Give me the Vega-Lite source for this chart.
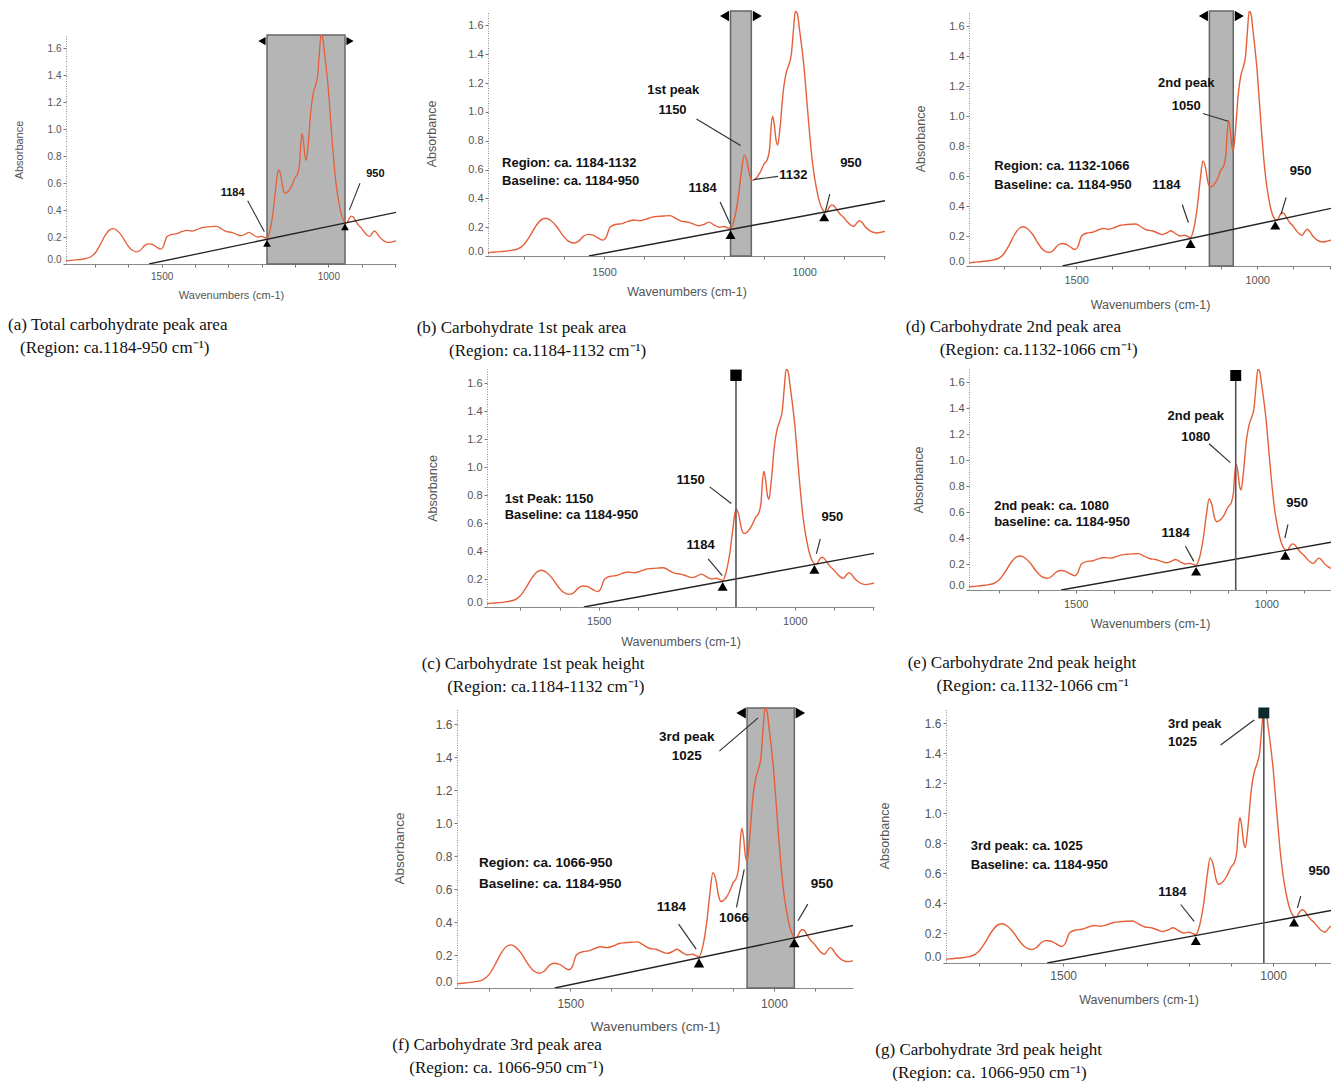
{
  "$schema": "https://vega.github.io/schema/vega-lite/v6.json",
  "padding": {"left": 8, "top": 10, "right": 0, "bottom": 0},
  "datasets": {
    "spec": [
      {"x":1800,"y":0.02},{"x":1782,"y":0.025},{"x":1760,"y":0.03},{"x":1737,"y":0.037},{"x":1715,"y":0.05},{"x":1700,"y":0.08},{"x":1685,"y":0.14},{"x":1670,"y":0.21},{"x":1655,"y":0.255},{"x":1645,"y":0.262},{"x":1635,"y":0.25},{"x":1620,"y":0.21},{"x":1605,"y":0.15},{"x":1590,"y":0.105},{"x":1575,"y":0.09},{"x":1565,"y":0.1},{"x":1550,"y":0.14},{"x":1540,"y":0.15},{"x":1528,"y":0.145},{"x":1515,"y":0.125},{"x":1503,"y":0.11},{"x":1495,"y":0.13},{"x":1485,"y":0.2},{"x":1470,"y":0.22},{"x":1455,"y":0.225},{"x":1440,"y":0.24},{"x":1425,"y":0.25},{"x":1410,"y":0.245},{"x":1395,"y":0.255},{"x":1380,"y":0.27},{"x":1365,"y":0.275},{"x":1350,"y":0.278},{"x":1335,"y":0.28},{"x":1320,"y":0.26},{"x":1305,"y":0.24},{"x":1290,"y":0.235},{"x":1275,"y":0.22},{"x":1262,"y":0.21},{"x":1250,"y":0.22},{"x":1238,"y":0.235},{"x":1225,"y":0.215},{"x":1212,"y":0.2},{"x":1200,"y":0.205},{"x":1190,"y":0.195},{"x":1184,"y":0.19},{"x":1175,"y":0.25},{"x":1165,"y":0.4},{"x":1157,"y":0.58},{"x":1150,"y":0.7},{"x":1143,"y":0.66},{"x":1136,"y":0.56},{"x":1130,"y":0.525},{"x":1120,"y":0.54},{"x":1110,"y":0.58},{"x":1100,"y":0.64},{"x":1092,"y":0.67},{"x":1086,"y":0.75},{"x":1083,"y":0.88},{"x":1079,"y":0.97},{"x":1075,"y":0.92},{"x":1070,"y":0.8},{"x":1066,"y":0.77},{"x":1060,"y":0.9},{"x":1052,"y":1.15},{"x":1045,"y":1.27},{"x":1038,"y":1.33},{"x":1032,"y":1.4},{"x":1027,"y":1.56},{"x":1022,"y":1.7},{"x":1017,"y":1.68},{"x":1012,"y":1.58},{"x":1006,"y":1.45},{"x":1000,"y":1.3},{"x":994,"y":1.1},{"x":988,"y":0.9},{"x":982,"y":0.72},{"x":976,"y":0.58},{"x":970,"y":0.48},{"x":964,"y":0.4},{"x":958,"y":0.345},{"x":952,"y":0.315},{"x":948,"y":0.305},{"x":943,"y":0.31},{"x":937,"y":0.34},{"x":931,"y":0.355},{"x":926,"y":0.35},{"x":918,"y":0.32},{"x":910,"y":0.29},{"x":902,"y":0.27},{"x":893,"y":0.24},{"x":884,"y":0.215},{"x":876,"y":0.205},{"x":868,"y":0.23},{"x":862,"y":0.245},{"x":856,"y":0.235},{"x":848,"y":0.205},{"x":838,"y":0.18},{"x":828,"y":0.165},{"x":818,"y":0.16},{"x":808,"y":0.165},{"x":800,"y":0.17},{"x":785,"y":0.175}
    ],
    "base": [{"x":1538,"y":0},{"x":785,"y":0.39}],
    "apex": [{"x":1184,"y":0.183},{"x":950,"y":0.305}]
  },
  "config": {
    "view": {"stroke": null},
    "axis": {"grid": false, "domainColor": "#8a8a8a", "tickColor": "#777", "tickSize": 3, "labelColor": "#555", "titleColor": "#555", "labelFont": "Liberation Sans", "titleFont": "Liberation Sans", "titleFontWeight": "normal"},
    "axisY": {"domainDash": [1, 1.5], "labelFlush": true, "labelPadding": 2},
    "axisX": {"labelFlush": false},
    "title": {"orient": "bottom", "anchor": "start", "frame": "bounds", "font": "Liberation Serif", "fontSize": 17, "fontWeight": "normal", "color": "#111", "lineHeight": 23},
    "text": {"font": "Liberation Sans", "fontWeight": "bold", "color": "#111"}
  },
  "vconcat": [
    {
      "hconcat": [
        {
          "vconcat": [
            {"width": 10, "height": 23, "data": {"values": [{"t": ""}]}, "mark": "text", "encoding": {"text": {"field": "t"}}},
            {
              "width": 330, "height": 229,
              "title": {"text": ["(a) Total carbohydrate peak area", "\u200b\u2002\u2009(Region: ca.1184-950 cm\u207b\u00b9)"], "dx": -5, "offset": 17},
              "encoding": {
                "x": {"field": "x", "type": "quantitative", "scale": {"domain": [1787, 797], "nice": false, "zero": false}, "axis": {"title": "Wavenumbers (cm-1)", "values": [1700,1600,1500,1400,1300,1200,1100,1000,900,800], "format": "d", "labelExpr": "datum.value == 1500 || datum.value == 1000 ? datum.label : ''", "labelFontSize": 10, "titleFontSize": 11, "labelPadding": 4, "titlePadding": 8}},
                "y": {"field": "y", "type": "quantitative", "scale": {"domain": [0, 1.7], "nice": false, "zero": false}, "axis": {"title": "Absorbance", "values": [0,0.2,0.4,0.6,0.8,1,1.2,1.4,1.6], "format": ".1f", "labelFontSize": 10, "titleFontSize": 11, "titlePadding": 23}}
              },
              "layer": [
                {"data": {"values": [{"x": 1184, "x2": 950, "y": 0, "y2": 1.7}]}, "mark": {"type": "rect", "fill": "#b5b5b5", "stroke": "#666", "strokeWidth": 1.5}, "encoding": {"x2": {"field": "x2"}, "y2": {"field": "y2"}}},
                {"data": {"name": "spec"}, "mark": {"type": "line", "color": "#e5603a", "strokeWidth": 1.3, "clip": true, "interpolate": "monotone"}},
                {"data": {"name": "base"}, "mark": {"type": "line", "color": "#222", "strokeWidth": 1.3, "clip": true}},
                {"data": {"name": "apex"}, "mark": {"type": "point", "shape": "triangle-up", "filled": true, "color": "#000", "opacity": 1, "size": 60, "yOffset": 4}},
                {"data": {"values": [{"x": 1184, "y": 1.655}]}, "mark": {"type": "point", "shape": "triangle-left", "filled": true, "color": "#000", "opacity": 1, "size": 70, "xOffset": -5}},
                {"data": {"values": [{"x": 950, "y": 1.655}]}, "mark": {"type": "point", "shape": "triangle-right", "filled": true, "color": "#000", "opacity": 1, "size": 70, "xOffset": 5}},
                {"data": {"values": [{"x": 1242, "y": 0.47, "x2": 1192, "y2": 0.24}, {"x": 905, "y": 0.6, "x2": 937, "y2": 0.4}]}, "mark": {"type": "rule", "color": "#333", "strokeWidth": 1.1}, "encoding": {"x2": {"field": "x2"}, "y2": {"field": "y2"}}},
                {"data": {"values": [{"x": 1287, "y": 0.53, "label": "1184"}, {"x": 859, "y": 0.67, "label": "950"}]}, "mark": {"type": "text", "fontSize": 11}, "encoding": {"text": {"field": "label"}}}
              ]
            }
          ],
          "spacing": 0
        },
        {
          "width": 397, "height": 245,
          "title": {"text": ["(b) Carbohydrate 1st peak area", "\u200b\u2002\u2002\u2002\u2009\u2009(Region: ca.1184-1132 cm\u207b\u00b9)"], "dx": -9, "offset": 22},
          "encoding": {
            "x": {"field": "x", "type": "quantitative", "scale": {"domain": [1790, 798], "nice": false, "zero": false}, "axis": {"title": "Wavenumbers (cm-1)", "values": [1700,1600,1500,1400,1300,1200,1100,1000,900,800], "format": "d", "labelExpr": "datum.value == 1500 || datum.value == 1000 ? datum.label : ''", "labelFontSize": 11, "titleFontSize": 12.5, "labelPadding": 7, "titlePadding": 8}},
            "y": {"field": "y", "type": "quantitative", "scale": {"domain": [0, 1.7], "nice": false, "zero": false}, "axis": {"title": "Absorbance", "values": [0,0.2,0.4,0.6,0.8,1,1.2,1.4,1.6], "format": ".1f", "labelFontSize": 11, "titleFontSize": 12.5, "titlePadding": 29}}
          },
          "layer": [
            {"data": {"values": [{"x": 1184, "x2": 1132, "y": 0, "y2": 1.7}]}, "mark": {"type": "rect", "fill": "#b5b5b5", "stroke": "#666", "strokeWidth": 1.5}, "encoding": {"x2": {"field": "x2"}, "y2": {"field": "y2"}}},
            {"data": {"name": "spec"}, "mark": {"type": "line", "color": "#e5603a", "strokeWidth": 1.4, "clip": true, "interpolate": "monotone"}},
            {"data": {"name": "base"}, "mark": {"type": "line", "color": "#222", "strokeWidth": 1.4, "clip": true}},
            {"data": {"name": "apex"}, "mark": {"type": "point", "shape": "triangle-up", "filled": true, "color": "#000", "opacity": 1, "size": 100, "yOffset": 5}},
            {"data": {"values": [{"x": 1184, "y": 1.665}]}, "mark": {"type": "point", "shape": "triangle-left", "filled": true, "color": "#000", "opacity": 1, "size": 110, "xOffset": -6}},
            {"data": {"values": [{"x": 1132, "y": 1.665}]}, "mark": {"type": "point", "shape": "triangle-right", "filled": true, "color": "#000", "opacity": 1, "size": 110, "xOffset": 6}},
            {"data": {"values": [{"x": 1269, "y": 0.95, "x2": 1159, "y2": 0.766}, {"x": 1210, "y": 0.374, "x2": 1185, "y2": 0.224}, {"x": 1065, "y": 0.553, "x2": 1126, "y2": 0.53}, {"x": 936, "y": 0.43, "x2": 948, "y2": 0.298}]}, "mark": {"type": "rule", "color": "#333", "strokeWidth": 1.2}, "encoding": {"x2": {"field": "x2"}, "y2": {"field": "y2"}}},
            {"data": {"values": [{"x": 1327, "y": 1.15, "label": "1st peak"}, {"x": 1329, "y": 1.01, "label": "1150"}, {"x": 1254, "y": 0.473, "label": "1184"}, {"x": 883, "y": 0.646, "label": "950"}]}, "mark": {"type": "text", "fontSize": 13}, "encoding": {"text": {"field": "label"}}},
            {"data": {"values": [{"x": 1755, "y": 0.646, "label": "Region: ca. 1184-1132"}, {"x": 1755, "y": 0.52, "label": "Baseline: ca. 1184-950"}, {"x": 1062, "y": 0.563, "label": "1132"}]}, "mark": {"type": "text", "fontSize": 13, "align": "left"}, "encoding": {"text": {"field": "label"}}}
          ]
        },
        {
          "width": 362, "height": 255,
          "title": {"text": ["(d) Carbohydrate 2nd peak area", "\u200b\u2002\u2002\u2002\u2002(Region: ca.1132-1066 cm\u207b\u00b9)"], "dx": -9, "offset": 8},
          "encoding": {
            "x": {"field": "x", "type": "quantitative", "scale": {"domain": [1796, 796], "nice": false, "zero": false}, "axis": {"title": "Wavenumbers (cm-1)", "values": [1700,1600,1500,1400,1300,1200,1100,1000,900,800], "format": "d", "labelExpr": "datum.value == 1500 || datum.value == 1000 ? datum.label : ''", "labelFontSize": 11, "titleFontSize": 12.5, "labelPadding": 5, "titlePadding": 13}},
            "y": {"field": "y", "type": "quantitative", "scale": {"domain": [0, 1.7], "nice": false, "zero": false}, "axis": {"title": "Absorbance", "values": [0,0.2,0.4,0.6,0.8,1,1.2,1.4,1.6], "format": ".1f", "labelFontSize": 11, "titleFontSize": 12.5, "titlePadding": 21}}
          },
          "layer": [
            {"data": {"values": [{"x": 1132, "x2": 1066, "y": 0, "y2": 1.7}]}, "mark": {"type": "rect", "fill": "#b5b5b5", "stroke": "#666", "strokeWidth": 1.5}, "encoding": {"x2": {"field": "x2"}, "y2": {"field": "y2"}}},
            {"data": {"name": "spec"}, "mark": {"type": "line", "color": "#e5603a", "strokeWidth": 1.4, "clip": true, "interpolate": "monotone"}},
            {"data": {"name": "base"}, "mark": {"type": "line", "color": "#222", "strokeWidth": 1.4, "clip": true}},
            {"data": {"name": "apex"}, "mark": {"type": "point", "shape": "triangle-up", "filled": true, "color": "#000", "opacity": 1, "size": 100, "yOffset": 5}},
            {"data": {"values": [{"x": 1132, "y": 1.667}]}, "mark": {"type": "point", "shape": "triangle-left", "filled": true, "color": "#000", "opacity": 1, "size": 110, "xOffset": -6}},
            {"data": {"values": [{"x": 1066, "y": 1.667}]}, "mark": {"type": "point", "shape": "triangle-right", "filled": true, "color": "#000", "opacity": 1, "size": 110, "xOffset": 6}},
            {"data": {"values": [{"x": 1150, "y": 1.017, "x2": 1080, "y2": 0.965}, {"x": 1207, "y": 0.41, "x2": 1190, "y2": 0.29}, {"x": 920, "y": 0.457, "x2": 934, "y2": 0.345}]}, "mark": {"type": "rule", "color": "#333", "strokeWidth": 1.2}, "encoding": {"x2": {"field": "x2"}, "y2": {"field": "y2"}}},
            {"data": {"values": [{"x": 1196, "y": 1.22, "label": "2nd peak"}, {"x": 1196, "y": 1.07, "label": "1050"}, {"x": 1251, "y": 0.542, "label": "1184"}, {"x": 880, "y": 0.636, "label": "950"}]}, "mark": {"type": "text", "fontSize": 13}, "encoding": {"text": {"field": "label"}}},
            {"data": {"values": [{"x": 1726, "y": 0.665, "label": "Region: ca. 1132-1066"}, {"x": 1726, "y": 0.542, "label": "Baseline: ca. 1184-950"}]}, "mark": {"type": "text", "fontSize": 13, "align": "left"}, "encoding": {"text": {"field": "label"}}}
          ]
        }
      ],
      "spacing": 20
    },
    {
      "vconcat": [
        {
          "hconcat": [
            {"width": 322, "height": 10, "data": {"values": [{"t": ""}]}, "mark": "text", "encoding": {"text": {"field": "t"}}},
            {
              "width": 387, "height": 238,
              "title": {"text": ["(c) Carbohydrate 1st peak height", "\u200b\u2002\u2002\u2002(Region: ca.1184-1132 cm\u207b\u00b9)"], "dx": -5, "offset": 8},
              "encoding": {
                "x": {"field": "x", "type": "quantitative", "scale": {"domain": [1785, 798], "nice": false, "zero": false}, "axis": {"title": "Wavenumbers (cm-1)", "values": [1700,1600,1500,1400,1300,1200,1100,1000,900,800], "format": "d", "labelExpr": "datum.value == 1500 || datum.value == 1000 ? datum.label : ''", "labelFontSize": 11, "titleFontSize": 12.5, "labelPadding": 5, "titlePadding": 9}},
                "y": {"field": "y", "type": "quantitative", "scale": {"domain": [0, 1.7], "nice": false, "zero": false}, "axis": {"title": "Absorbance", "values": [0,0.2,0.4,0.6,0.8,1,1.2,1.4,1.6], "format": ".1f", "labelFontSize": 11, "titleFontSize": 12.5, "titlePadding": 27}}
              },
              "layer": [
                {"data": {"name": "spec"}, "mark": {"type": "line", "color": "#e5603a", "strokeWidth": 1.4, "clip": true, "interpolate": "monotone"}},
                {"data": {"name": "base"}, "mark": {"type": "line", "color": "#222", "strokeWidth": 1.4, "clip": true}},
                {"data": {"values": [{"x": 1150, "y": 0, "y2": 1.655}]}, "mark": {"type": "rule", "color": "#555", "strokeWidth": 1.6}, "encoding": {"y2": {"field": "y2"}}},
                {"data": {"values": [{"x": 1150, "y": 1.655}]}, "mark": {"type": "point", "shape": "square", "filled": true, "color": "#000", "opacity": 1, "size": 130}},
                {"data": {"name": "apex"}, "mark": {"type": "point", "shape": "triangle-up", "filled": true, "color": "#000", "opacity": 1, "size": 100, "yOffset": 5}},
                {"data": {"values": [{"x": 1217, "y": 0.858, "x2": 1162, "y2": 0.739}, {"x": 1221, "y": 0.344, "x2": 1185, "y2": 0.224}, {"x": 935, "y": 0.487, "x2": 945, "y2": 0.379}]}, "mark": {"type": "rule", "color": "#333", "strokeWidth": 1.2}, "encoding": {"x2": {"field": "x2"}, "y2": {"field": "y2"}}},
                {"data": {"values": [{"x": 1266, "y": 0.906, "label": "1150"}, {"x": 1240, "y": 0.44, "label": "1184"}, {"x": 904, "y": 0.643, "label": "950"}]}, "mark": {"type": "text", "fontSize": 13}, "encoding": {"text": {"field": "label"}}},
                {"data": {"values": [{"x": 1740, "y": 0.774, "label": "1st Peak: 1150"}, {"x": 1740, "y": 0.655, "label": "Baseline: ca 1184-950"}]}, "mark": {"type": "text", "fontSize": 13, "align": "left"}, "encoding": {"text": {"field": "label"}}}
              ]
            },
            {
              "width": 362, "height": 221,
              "title": {"text": ["(e) Carbohydrate 2nd peak height", "\u200b\u2002\u2002\u2002\u2009(Region: ca.1132-1066 cm\u207b\u00b9"], "dx": -5, "offset": 25},
              "encoding": {
                "x": {"field": "x", "type": "quantitative", "scale": {"domain": [1780, 830], "nice": false, "zero": false}, "axis": {"title": "Wavenumbers (cm-1)", "values": [1700,1600,1500,1400,1300,1200,1100,1000,900], "format": "d", "labelExpr": "datum.value == 1500 || datum.value == 1000 ? datum.label : ''", "labelFontSize": 11, "titleFontSize": 12.5, "labelPadding": 5, "titlePadding": 8}},
                "y": {"field": "y", "type": "quantitative", "scale": {"domain": [0, 1.7], "nice": false, "zero": false}, "axis": {"title": "Absorbance", "values": [0,0.2,0.4,0.6,0.8,1,1.2,1.4,1.6], "format": ".1f", "labelFontSize": 11, "titleFontSize": 12.5, "titlePadding": 23}}
              },
              "layer": [
                {"data": {"name": "spec"}, "mark": {"type": "line", "color": "#e5603a", "strokeWidth": 1.4, "clip": true, "interpolate": "monotone"}},
                {"data": {"name": "base"}, "mark": {"type": "line", "color": "#222", "strokeWidth": 1.4, "clip": true}},
                {"data": {"values": [{"x": 1080, "y": 0, "y2": 1.65}]}, "mark": {"type": "rule", "color": "#555", "strokeWidth": 1.6}, "encoding": {"y2": {"field": "y2"}}},
                {"data": {"values": [{"x": 1080, "y": 1.65}]}, "mark": {"type": "point", "shape": "square", "filled": true, "color": "#000", "opacity": 1, "size": 120}},
                {"data": {"name": "apex"}, "mark": {"type": "point", "shape": "triangle-up", "filled": true, "color": "#000", "opacity": 1, "size": 100, "yOffset": 5}},
                {"data": {"values": [{"x": 1150, "y": 1.125, "x2": 1094, "y2": 0.98}, {"x": 1212, "y": 0.337, "x2": 1190, "y2": 0.22}, {"x": 943, "y": 0.505, "x2": 951, "y2": 0.4}]}, "mark": {"type": "rule", "color": "#333", "strokeWidth": 1.2}, "encoding": {"x2": {"field": "x2"}, "y2": {"field": "y2"}}},
                {"data": {"values": [{"x": 1185, "y": 1.342, "label": "2nd peak"}, {"x": 1185, "y": 1.18, "label": "1080"}, {"x": 1238, "y": 0.44, "label": "1184"}, {"x": 919, "y": 0.672, "label": "950"}]}, "mark": {"type": "text", "fontSize": 13}, "encoding": {"text": {"field": "label"}}},
                {"data": {"values": [{"x": 1714, "y": 0.646, "label": "2nd peak: ca. 1080"}, {"x": 1714, "y": 0.525, "label": "baseline: ca. 1184-950"}]}, "mark": {"type": "text", "fontSize": 13, "align": "left"}, "encoding": {"text": {"field": "label"}}}
              ]
            }
          ],
          "spacing": 33
        },
        {
          "hconcat": [
            {"width": 304, "height": 10, "data": {"values": [{"t": ""}]}, "mark": "text", "encoding": {"text": {"field": "t"}}},
            {
              "width": 396, "height": 280,
              "title": {"text": ["(f) Carbohydrate 3rd peak area", "\u200b\u2002\u2002(Region: ca. 1066-950 cm\u207b\u00b9)"], "offset": 4},
              "encoding": {
                "x": {"field": "x", "type": "quantitative", "scale": {"domain": [1778, 806], "nice": false, "zero": false}, "axis": {"title": "Wavenumbers (cm-1)", "values": [1700,1600,1500,1400,1300,1200,1100,1000,900], "format": "d", "labelExpr": "datum.value == 1500 || datum.value == 1000 ? datum.label : ''", "labelFontSize": 12, "titleFontSize": 13.5, "labelPadding": 7, "titlePadding": 10}},
                "y": {"field": "y", "type": "quantitative", "scale": {"domain": [0, 1.7], "nice": false, "zero": false}, "axis": {"title": "Absorbance", "values": [0,0.2,0.4,0.6,0.8,1,1.2,1.4,1.6], "format": ".1f", "labelFontSize": 12, "titleFontSize": 13.5, "titlePadding": 29}}
              },
              "layer": [
                {"data": {"values": [{"x": 1066, "x2": 950, "y": 0, "y2": 1.7}]}, "mark": {"type": "rect", "fill": "#b5b5b5", "stroke": "#666", "strokeWidth": 1.5}, "encoding": {"x2": {"field": "x2"}, "y2": {"field": "y2"}}},
                {"data": {"name": "spec"}, "mark": {"type": "line", "color": "#e5603a", "strokeWidth": 1.4, "clip": true, "interpolate": "monotone"}},
                {"data": {"name": "base"}, "mark": {"type": "line", "color": "#222", "strokeWidth": 1.4, "clip": true}},
                {"data": {"name": "apex"}, "mark": {"type": "point", "shape": "triangle-up", "filled": true, "color": "#000", "opacity": 1, "size": 110, "yOffset": 5}},
                {"data": {"values": [{"x": 1066, "y": 1.67}]}, "mark": {"type": "point", "shape": "triangle-left", "filled": true, "color": "#000", "opacity": 1, "size": 120, "xOffset": -6}},
                {"data": {"values": [{"x": 950, "y": 1.67}]}, "mark": {"type": "point", "shape": "triangle-right", "filled": true, "color": "#000", "opacity": 1, "size": 120, "xOffset": 6}},
                {"data": {"values": [{"x": 1134, "y": 1.438, "x2": 1039, "y2": 1.64}, {"x": 1234, "y": 0.388, "x2": 1191, "y2": 0.236}, {"x": 1092, "y": 0.489, "x2": 1073, "y2": 0.72}, {"x": 917, "y": 0.509, "x2": 941, "y2": 0.408}]}, "mark": {"type": "rule", "color": "#333", "strokeWidth": 1.2}, "encoding": {"x2": {"field": "x2"}, "y2": {"field": "y2"}}},
                {"data": {"values": [{"x": 1214, "y": 1.525, "label": "3rd peak"}, {"x": 1214, "y": 1.408, "label": "1025"}, {"x": 1252, "y": 0.489, "label": "1184"}, {"x": 1098, "y": 0.422, "label": "1066"}, {"x": 882, "y": 0.63, "label": "950"}]}, "mark": {"type": "text", "fontSize": 13.5}, "encoding": {"text": {"field": "label"}}},
                {"data": {"values": [{"x": 1724, "y": 0.758, "label": "Region: ca. 1066-950"}, {"x": 1724, "y": 0.634, "label": "Baseline: ca. 1184-950"}]}, "mark": {"type": "text", "fontSize": 13.5, "align": "left"}, "encoding": {"text": {"field": "label"}}}
              ]
            },
            {
              "width": 385, "height": 255,
              "title": {"text": ["(g) Carbohydrate 3rd peak height", "\u200b\u2002\u2002(Region: ca. 1066-950 cm\u207b\u00b9)"], "dx": -3, "offset": 36},
              "encoding": {
                "x": {"field": "x", "type": "quantitative", "scale": {"domain": [1779, 862], "nice": false, "zero": false}, "axis": {"title": "Wavenumbers (cm-1)", "values": [1700,1600,1500,1400,1300,1200,1100,1000,900], "format": "d", "labelExpr": "datum.value == 1500 || datum.value == 1000 ? datum.label : ''", "labelFontSize": 12, "titleFontSize": 12.5, "labelPadding": 4, "titlePadding": 12}},
                "y": {"field": "y", "type": "quantitative", "scale": {"domain": [0, 1.7], "nice": false, "zero": false}, "axis": {"title": "Absorbance", "values": [0,0.2,0.4,0.6,0.8,1,1.2,1.4,1.6], "format": ".1f", "labelFontSize": 12, "titleFontSize": 12.5, "titlePadding": 33}}
              },
              "layer": [
                {"data": {"name": "spec"}, "mark": {"type": "line", "color": "#e5603a", "strokeWidth": 1.4, "clip": true, "interpolate": "monotone"}},
                {"data": {"name": "base"}, "mark": {"type": "line", "color": "#222", "strokeWidth": 1.4, "clip": true}},
                {"data": {"values": [{"x": 1022, "y": 0, "y2": 1.667}]}, "mark": {"type": "rule", "color": "#555", "strokeWidth": 1.6}, "encoding": {"y2": {"field": "y2"}}},
                {"data": {"values": [{"x": 1022, "y": 1.667}]}, "mark": {"type": "point", "shape": "square", "filled": true, "color": "#0b2a2a", "opacity": 1, "size": 120}},
                {"data": {"name": "apex"}, "mark": {"type": "point", "shape": "triangle-up", "filled": true, "color": "#000", "opacity": 1, "size": 100, "yOffset": 5}},
                {"data": {"values": [{"x": 1125, "y": 1.454, "x2": 1045, "y2": 1.62}, {"x": 1220, "y": 0.39, "x2": 1188, "y2": 0.278}, {"x": 934, "y": 0.446, "x2": 942, "y2": 0.367}]}, "mark": {"type": "rule", "color": "#333", "strokeWidth": 1.2}, "encoding": {"x2": {"field": "x2"}, "y2": {"field": "y2"}}},
                {"data": {"values": [{"x": 1240, "y": 0.473, "label": "1184"}, {"x": 890, "y": 0.614, "label": "950"}]}, "mark": {"type": "text", "fontSize": 13}, "encoding": {"text": {"field": "label"}}},
                {"data": {"values": [{"x": 1250, "y": 1.593, "label": "3rd peak"}, {"x": 1250, "y": 1.472, "label": "1025"}, {"x": 1720, "y": 0.782, "label": "3rd peak: ca. 1025"}, {"x": 1720, "y": 0.654, "label": "Baseline: ca. 1184-950"}]}, "mark": {"type": "text", "fontSize": 13, "align": "left"}, "encoding": {"text": {"field": "label"}}}
              ]
            }
          ],
          "spacing": 22
        }
      ],
      "spacing": 12
    }
  ],
  "spacing": 9
}
